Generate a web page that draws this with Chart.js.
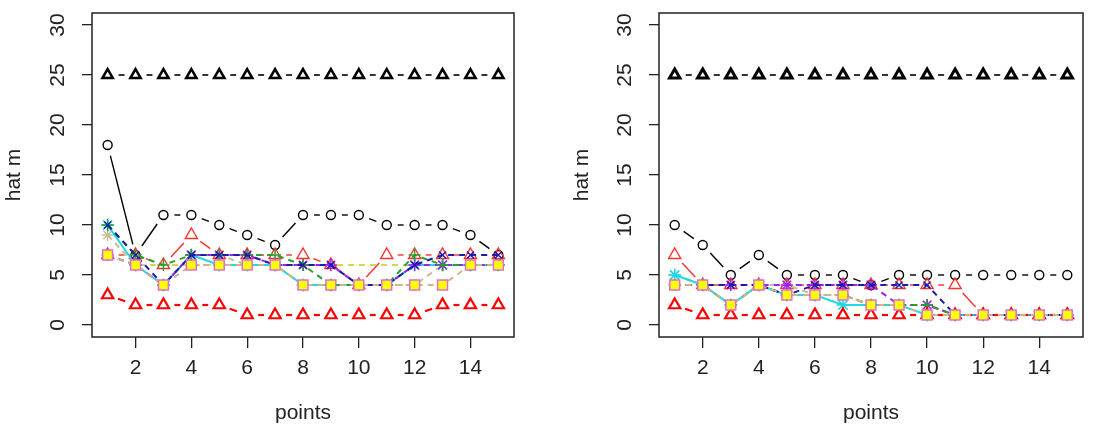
<!DOCTYPE html>
<html lang="en">
<head>
<meta charset="UTF-8">
<title>hat m vs points</title>
<script src="https://cdn.jsdelivr.net/npm/chart.js"></script>
<style>
  html, body { margin: 0; padding: 0; background: #fff; }
  .wrap { position: relative; width: 1096px; height: 436px; }
  canvas { position: absolute; top: 0; }
  #left { left: 0; }
  #right { left: 548px; }
</style>
</head>
<body>
<div class="wrap">
  <canvas id="left" width="548" height="436"></canvas>
  <canvas id="right" width="548" height="436"></canvas>
</div>
<script>
// x positions and axis ticks
const points = [1, 2, 3, 4, 5, 6, 7, 8, 9, 10, 11, 12, 13, 14, 15];
const xTicks = [2, 4, 6, 8, 10, 12, 14];
const yTicks = [0, 5, 10, 15, 20, 25, 30];

// left panel
const leftBlackTri  = [25, 25, 25, 25, 25, 25, 25, 25, 25, 25, 25, 25, 25, 25, 25];
const leftBlackCirc = [18, 7, 11, 11, 10, 9, 8, 11, 11, 11, 10, 10, 10, 9, 7];
const leftRedLow    = [3, 2, 2, 2, 2, 1, 1, 1, 1, 1, 1, 1, 2, 2, 2];
const leftRedUp     = [7, 7, 6, 9, 7, 7, 7, 7, 6, 4, 7, 7, 7, 7, 7];
const leftYellow    = [7, 6, 6, 6, 6, 6, 6, 6, 6, 6, 6, 6, 6, 6, 6];
const leftKhaki     = [9, 6, 4, 7, 7, 6, 6, 4, 4, 4, 4, 4, 6, 6, 6];
const leftCyan      = [10, 6, 4, 7, 6, 6, 6, 4, 4, 4, 4, 6, 6, 6, 6];
const leftPurple    = [7, 6, 4, 7, 7, 7, 6, 6, 6, 4, 4, 6, 6, 6, 6];
const leftBlue      = [10, 7, 4, 7, 7, 7, 6, 6, 6, 4, 4, 6, 7, 7, 7];
const leftGreen     = [10, 7, 6, 7, 7, 7, 7, 6, 4, 4, 4, 7, 6, 6, 6];
const leftTan       = [7, 6, 4, 6, 6, 6, 6, 4, 4, 4, 4, 4, 4, 6, 6];

// right panel
const rightBlackTri  = [25, 25, 25, 25, 25, 25, 25, 25, 25, 25, 25, 25, 25, 25, 25];
const rightBlackCirc = [10, 8, 5, 7, 5, 5, 5, 4, 5, 5, 5, 5, 5, 5, 5];
const rightRedLow    = [2, 1, 1, 1, 1, 1, 1, 1, 1, 1, 1, 1, 1, 1, 1];
const rightRedUp     = [7, 4, 4, 4, 4, 4, 4, 4, 4, 4, 4, 1, 1, 1, 1];
const rightYellow    = [5, 4, 2, 4, 3, 3, 3, 2, 2, 2, 1, 1, 1, 1, 1];
const rightKhaki     = [5, 4, 2, 4, 4, 3, 3, 2, 2, 2, 1, 1, 1, 1, 1];
const rightCyan      = [5, 4, 2, 4, 3, 3, 2, 2, 2, 1, 1, 1, 1, 1, 1];
const rightPurple    = [4, 4, 4, 4, 4, 4, 4, 4, 2, 2, 1, 1, 1, 1, 1];
const rightBlue      = [4, 4, 4, 4, 3, 4, 4, 4, 4, 4, 1, 1, 1, 1, 1];
const rightGreen     = [4, 4, 2, 4, 3, 3, 3, 2, 2, 2, 1, 1, 1, 1, 1];
const rightTan       = [4, 4, 2, 4, 3, 3, 3, 2, 2, 1, 1, 1, 1, 1, 1];

const FONT = { family: '"Liberation Sans", Arial, sans-serif', size: 21 };
const INK = '#222';
const GAP = 11; // blank space left around each point, like type = "b"

// dash for one segment: blank near both points, line (or dashes) in between
function gapDash(seg, dash) {
  const L = Math.hypot(seg.p1.x - seg.p0.x, seg.p1.y - seg.p0.y);
  const vis = L - 2 * GAP;
  if (vis <= 0.5) return [0, L + 20];
  const on = dash ? dash[0] : vis, off = dash ? dash[1] : 0;
  const d = [0, GAP];
  let r = vis;
  while (r > 0) {
    const a = Math.min(on, r);
    d.push(a); r -= a;
    if (r > off) { d.push(off); r -= off; } else { d.push(r + GAP + 20); r = 0; }
  }
  return d;
}

function series(data, s) {
  const ds = {
    data: points.map((x, i) => ({ x: x, y: data[i] })),
    borderColor: s.color,
    borderWidth: s.width,
    borderDash: s.dash || [],
    pointStyle: s.shape || 'circle',
    pointRadius: s.shape ? s.size : 0,
    pointBorderWidth: s.pw || 1.5,
    pointBorderColor: s.edge || s.color,
    pointBackgroundColor: s.fill || 'rgba(0,0,0,0)',
    tension: 0
  };
  if (s.gap) {
    ds.segment = {
      borderDash: seg => gapDash(seg, s.dash),
      borderDashOffset: seg => seg.p0DataIndex * 0.001
    };
  }
  return ds;
}

const frame = {
  id: 'frame',
  afterDraw(chart) {
    const { ctx, chartArea: a } = chart;
    ctx.save();
    ctx.strokeStyle = INK;
    ctx.lineWidth = 1.5;
    ctx.strokeRect(a.left, a.top, a.right - a.left, a.bottom - a.top);
    ctx.restore();
  }
};

function noPad(s) { s.paddingTop = s.paddingBottom = s.paddingLeft = s.paddingRight = 0; }

function makePanel(id, list, yWidth, padRight, titlePad) {
  const datasets = list.map((p, i) => Object.assign(series(p[0], p[1]), { order: list.length - i }));
  return new Chart(document.getElementById(id), {
    type: 'line',
    data: { datasets: datasets },
    options: {
      responsive: false,
      animation: false,
      devicePixelRatio: 1,
      layout: { padding: { left: 0, top: 13, right: padRight, bottom: 0 } },
      plugins: { legend: { display: false }, tooltip: { enabled: false } },
      scales: {
        x: {
          type: 'linear', min: 0.44, max: 15.56,
          afterBuildTicks: s => { s.ticks = xTicks.map(v => ({ value: v })); },
          afterFit: s => { s.height = 99; noPad(s); },
          grid: { drawOnChartArea: false, tickLength: 11, color: INK, lineWidth: 1.3 },
          border: { display: false },
          ticks: { color: INK, font: FONT, padding: 8, maxRotation: 0, autoSkip: false },
          title: { display: true, text: 'points', color: INK, font: FONT, padding: { top: 0, bottom: 10 } }
        },
        y: {
          type: 'linear', min: -1.2, max: 31.2,
          afterBuildTicks: s => { s.ticks = yTicks.map(v => ({ value: v })); },
          afterFit: s => { s.width = yWidth; noPad(s); },
          grid: { drawOnChartArea: false, tickLength: 10, color: INK, lineWidth: 1.3 },
          border: { display: false },
          ticks: { color: INK, font: FONT, padding: 12, minRotation: 90, maxRotation: 90, crossAlign: 'center', autoSkip: false },
          title: { display: true, text: 'hat m', color: INK, font: FONT, padding: { top: titlePad, bottom: 0 } }
        }
      }
    },
    plugins: [frame]
  });
}

const dashed = [6, 5];
const look = {
  blackTri:  { color: '#000000', shape: 'triangle', size: 6, width: 1.6, pw: 2.5, gap: true },
  blackCirc: { color: '#000000', shape: 'circle', size: 4.5, width: 1.4, pw: 1.4, gap: true },
  redLow:    { color: '#ff0000', shape: 'triangle', size: 6.5, width: 2.2, pw: 2.2, gap: true },
  redUp:     { color: '#ff3030', shape: 'triangle', size: 7, width: 1.4, pw: 1.4, gap: true },
  yellow:    { color: '#d6d650', width: 2, dash: dashed },
  khaki:     { color: '#c9bf94', shape: 'star', size: 6, width: 2, dash: dashed },
  cyan:      { color: '#22d8e6', shape: 'star', size: 6.5, width: 2 },
  purple:    { color: '#a020f0', shape: 'star', size: 6, width: 2, dash: dashed },
  blue:      { color: '#1c1ca8', shape: 'crossRot', size: 5, width: 2, dash: dashed },
  green:     { color: '#2aa02a', shape: 'cross', size: 6, width: 2, dash: dashed },
  tan:       { color: '#d2b48c', shape: 'rect', size: 7, width: 2, dash: dashed, fill: '#ffff00', edge: '#da70d6', pw: 1.5 }
};

makePanel('left', [
  [leftBlackTri, look.blackTri], [leftBlackCirc, look.blackCirc], [leftRedUp, look.redUp],
  [leftYellow, look.yellow], [leftKhaki, look.khaki], [leftCyan, look.cyan],
  [leftPurple, look.purple], [leftGreen, look.green], [leftBlue, look.blue],
  [leftRedLow, look.redLow], [leftTan, look.tan]
], 92, 34, 2);

makePanel('right', [
  [rightBlackTri, Object.assign({}, look.blackTri, { pw: 3 })], [rightBlackCirc, look.blackCirc], [rightRedUp, look.redUp],
  [rightYellow, look.yellow], [rightKhaki, look.khaki], [rightCyan, look.cyan],
  [rightPurple, look.purple], [rightGreen, look.green], [rightBlue, look.blue],
  [rightRedLow, look.redLow], [rightTan, look.tan]
], 111, 13, 22);
</script>
</body>
</html>
